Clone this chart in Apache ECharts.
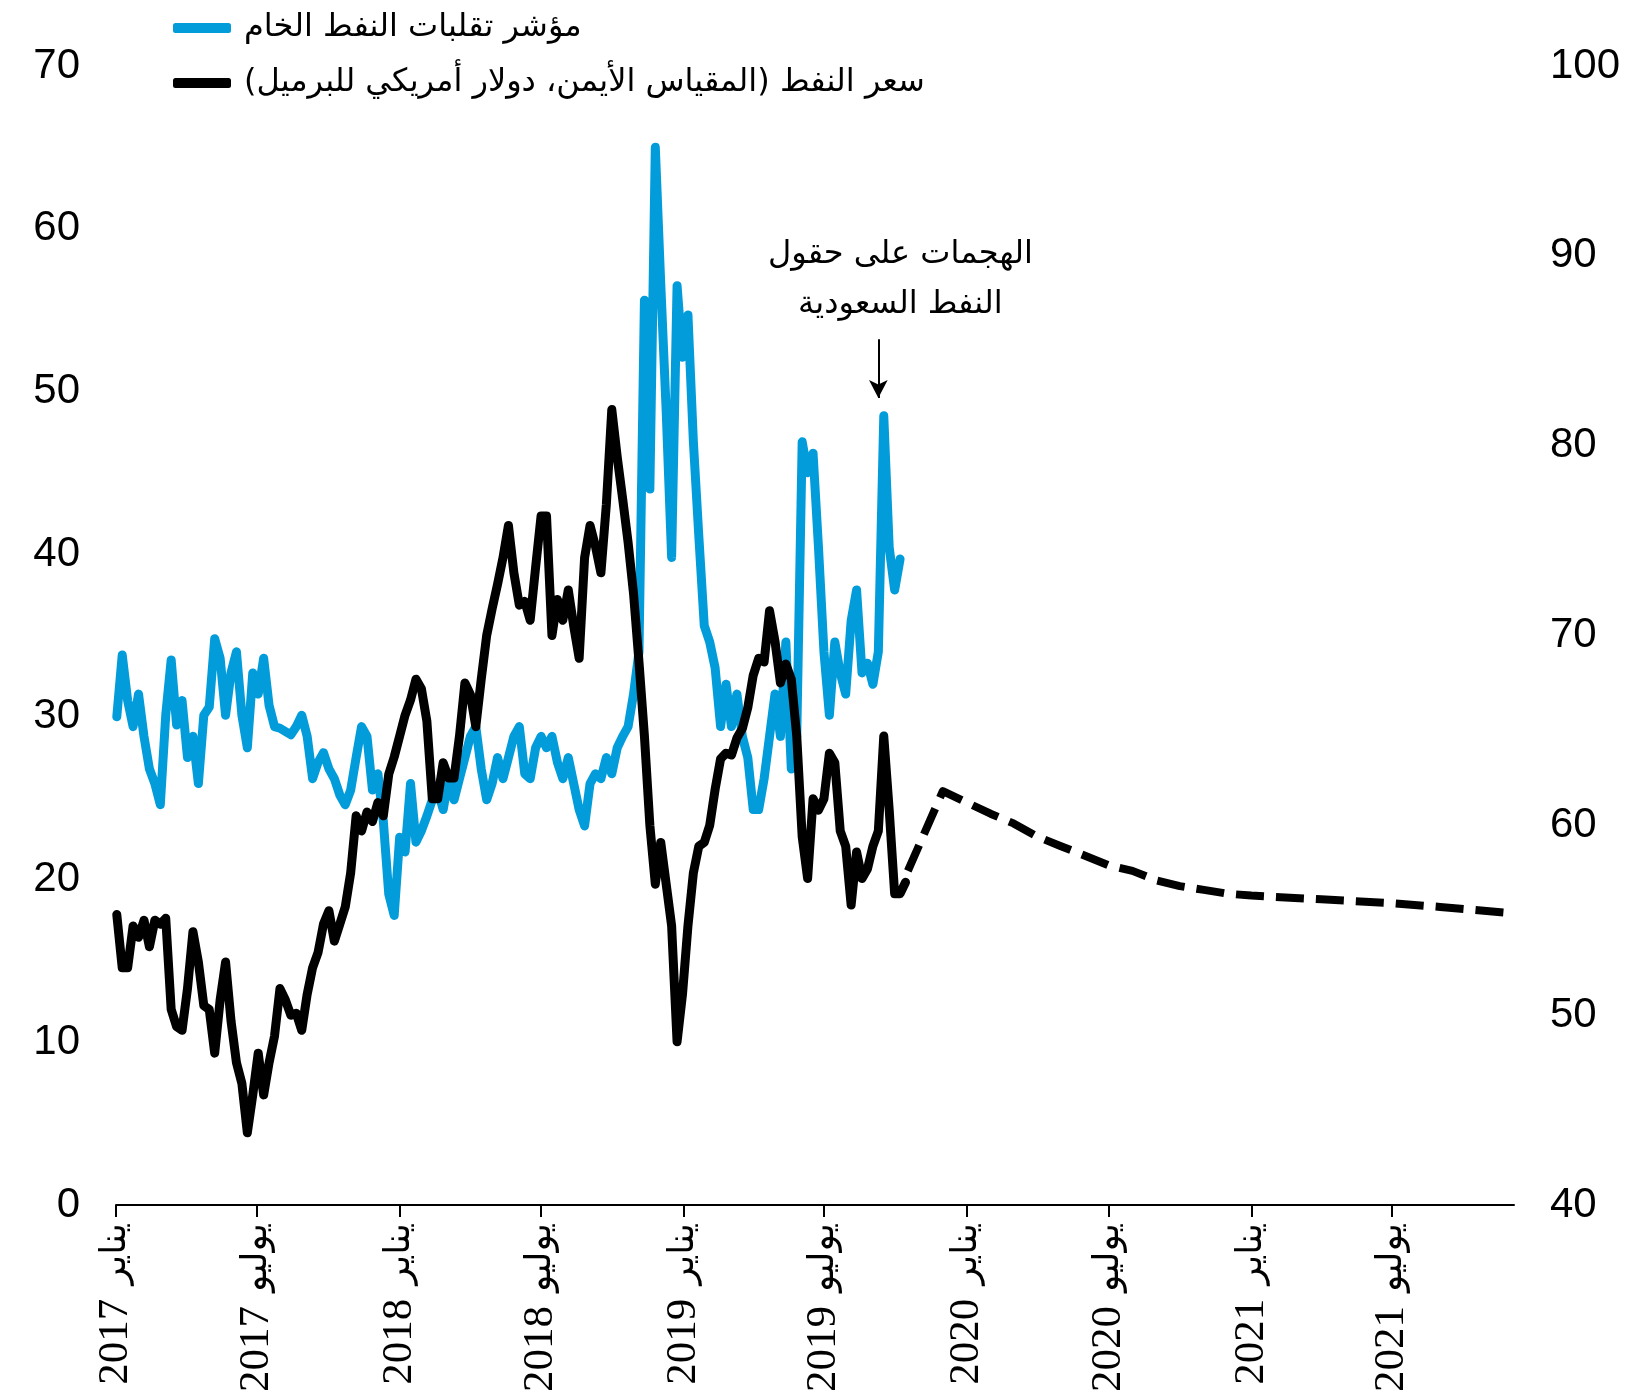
<!DOCTYPE html>
<html>
<head>
<meta charset="utf-8">
<title>Oil volatility and price</title>
<script src="https://cdn.jsdelivr.net/npm/echarts@6/dist/echarts.min.js"></script>
<style>
  html, body { margin: 0; padding: 0; background: #fff; }
  #chart { width: 1650px; height: 1398px; }
</style>
</head>
<body>
<div id="chart"></div>
<script>
// weekly observations (Mondays)
const weeks = [
  '2017-01-02','2017-01-09','2017-01-16','2017-01-23','2017-01-30',
  '2017-02-06','2017-02-13','2017-02-20','2017-02-27',
  '2017-03-06','2017-03-13','2017-03-20','2017-03-27',
  '2017-04-03','2017-04-10','2017-04-17','2017-04-24',
  '2017-05-01','2017-05-08','2017-05-15','2017-05-22','2017-05-29',
  '2017-06-05','2017-06-12','2017-06-19','2017-06-26',
  '2017-07-03','2017-07-10','2017-07-17','2017-07-24','2017-07-31',
  '2017-08-07','2017-08-14','2017-08-21','2017-08-28',
  '2017-09-04','2017-09-11','2017-09-18','2017-09-25',
  '2017-10-02','2017-10-09','2017-10-16','2017-10-23','2017-10-30',
  '2017-11-06','2017-11-13','2017-11-20','2017-11-27',
  '2017-12-04','2017-12-11','2017-12-18','2017-12-25',
  '2018-01-01','2018-01-08','2018-01-15','2018-01-22','2018-01-29',
  '2018-02-05','2018-02-12','2018-02-19','2018-02-26',
  '2018-03-05','2018-03-12','2018-03-19','2018-03-26',
  '2018-04-02','2018-04-09','2018-04-16','2018-04-23','2018-04-30',
  '2018-05-07','2018-05-14','2018-05-21','2018-05-28',
  '2018-06-04','2018-06-11','2018-06-18','2018-06-25',
  '2018-07-02','2018-07-09','2018-07-16','2018-07-23','2018-07-30',
  '2018-08-06','2018-08-13','2018-08-20','2018-08-27',
  '2018-09-03','2018-09-10','2018-09-17','2018-09-24',
  '2018-10-01','2018-10-08','2018-10-15','2018-10-22','2018-10-29',
  '2018-11-05','2018-11-12','2018-11-19','2018-11-26',
  '2018-12-03','2018-12-10','2018-12-17','2018-12-24','2018-12-31',
  '2019-01-07','2019-01-14','2019-01-21','2019-01-28',
  '2019-02-04','2019-02-11','2019-02-18','2019-02-25',
  '2019-03-04','2019-03-11','2019-03-18','2019-03-25',
  '2019-04-01','2019-04-08','2019-04-15','2019-04-22','2019-04-29',
  '2019-05-06','2019-05-13','2019-05-20','2019-05-27',
  '2019-06-03','2019-06-10','2019-06-17','2019-06-24',
  '2019-07-01','2019-07-08','2019-07-15','2019-07-22','2019-07-29',
  '2019-08-05','2019-08-12','2019-08-19','2019-08-26',
  '2019-09-02','2019-09-09','2019-09-16','2019-09-23','2019-09-30',
  '2019-10-07','2019-10-14'
];

// crude oil volatility index (left axis)
const volatility = [
  30.0, 33.8, 31.0, 29.4, 31.4, 28.8, 26.8, 25.9, 24.6, 30.1,
  33.5, 29.5, 31.0, 27.5, 28.8, 25.9, 30.1, 30.6, 34.8, 33.6,
  30.1, 32.7, 34.0, 30.1, 28.1, 32.7, 31.4, 33.6, 30.7, 29.4,
  29.3, 29.1, 28.9, 29.4, 30.1, 28.8, 26.2, 27.2, 27.8, 26.8,
  26.2, 25.2, 24.6, 25.5, 27.5, 29.4, 28.8, 25.5, 26.5, 23.6,
  19.1, 17.8, 22.6, 21.7, 25.9, 22.3, 23.0, 23.9, 24.9, 25.5,
  24.3, 26.2, 24.9, 26.2, 27.5, 28.8, 29.4, 26.8, 24.9, 25.9,
  27.5, 26.2, 27.5, 28.8, 29.4, 26.5, 26.2, 28.1, 28.8, 28.1,
  28.8, 27.2, 26.2, 27.5, 25.9, 24.3, 23.3, 25.9, 26.5, 26.2,
  27.5, 26.5, 28.1, 28.8, 29.4, 31.4, 34.0, 55.6, 44.0, 65.0,
  56.6, 48.8, 39.8, 56.5, 52.1, 54.7, 46.9, 41.1, 35.6, 34.6,
  33.0, 29.4, 32.0, 29.4, 31.4, 28.8, 27.5, 24.3, 24.3, 26.2,
  28.8, 31.4, 28.8, 34.6, 26.8, 28.8, 46.9, 45.0, 46.2, 40.4,
  34.0, 30.1, 34.6, 32.7, 31.4, 35.9, 37.8, 32.7, 33.3, 32.0,
  34.0, 48.5, 40.4, 37.8, 39.7
];

// oil price, USD per barrel (right axis)
const oilPrice = [
  55.3, 52.5, 52.5, 54.7, 54.1, 55.0, 53.6, 55.0, 54.8, 55.1,
  50.3, 49.4, 49.2, 51.4, 54.4, 52.8, 50.5, 50.3, 48.0, 50.8,
  52.8, 49.7, 47.5, 46.4, 43.8, 45.8, 48.0, 45.8, 47.5, 48.9,
  51.4, 50.8, 50.0, 50.1, 49.2, 51.1, 52.5, 53.3, 54.8, 55.5,
  53.9, 54.8, 55.7, 57.5, 60.5, 59.7, 60.7, 60.2, 61.2, 60.5,
  62.7, 63.6, 64.7, 65.8, 66.6, 67.7, 67.2, 65.5, 61.4, 61.4,
  63.3, 62.5, 62.5, 64.7, 67.5, 66.9, 65.2, 67.7, 70.0, 71.4,
  72.7, 74.1, 75.8, 73.3, 71.6, 71.8, 70.8, 73.6, 76.3, 76.3,
  70.0, 71.9, 70.8, 72.4, 70.5, 68.8, 74.1, 75.8, 74.7, 73.3,
  76.9, 81.9, 79.4, 77.2, 74.9, 72.2, 68.6, 64.7, 60.0, 56.9,
  59.1, 56.9, 54.7, 48.6, 51.1, 54.7, 57.5, 58.9, 59.1, 60.0,
  61.9, 63.5, 63.8, 63.7, 64.6, 65.1, 66.2, 67.9, 68.8, 68.6,
  71.3, 69.7, 67.5, 68.5, 67.7, 64.7, 59.4, 57.2, 61.4, 60.8,
  61.4, 63.8, 63.3, 59.7, 58.9, 55.8, 58.6, 57.2, 57.7, 58.9,
  59.7, 64.7, 60.8, 56.4, 56.4, 57.0
];

// futures curve (dashed)
const forecastDates = [
  '2019-10-17','2019-12-01','2020-01-01','2020-02-01','2020-03-01',
  '2020-04-01','2020-05-01','2020-06-01','2020-07-01','2020-08-01',
  '2020-09-01','2020-10-01','2020-11-01','2020-12-01','2021-01-01',
  '2021-04-01','2021-07-01','2021-09-01','2021-11-25'
];
const forecastPrice = [
  57.6, 61.8, 61.2, 60.6, 60.1,
  59.4, 58.9, 58.4, 57.9, 57.6,
  57.1, 56.8, 56.6, 56.4, 56.3,
  56.1, 55.9, 55.7, 55.4
];

const monthNames = ['يناير', 'يوليو'];
const legendNames = ['مؤشر تقلبات النفط الخام', 'سعر النفط (المقياس الأيمن، دولار أمريكي للبرميل)'];
const noteLines = ['الهجمات على حقول', 'النفط السعودية'];
const noteDate = '2019-09-09';
const arrowSpan = [53.2, 49.6];

const BLUE = '#039cdb';
const AR_FONT = '"DejaVu Sans", sans-serif';

const chart = echarts.init(document.getElementById('chart'));

const option = {
  animation: false,
  backgroundColor: '#fff',
  textStyle: { fontFamily: '"Liberation Sans", Arial, sans-serif' },
  grid: { left: 116, right: 136, top: 66, bottom: 193, containLabel: false, outerBoundsMode: 'none' },
  legend: {
    orient: 'vertical',
    left: 168,
    top: 1,
    data: legendNames,
    icon: 'roundRect',
    itemWidth: 58,
    itemHeight: 10,
    itemGap: 11,
    selectedMode: false,
    itemStyle: { borderWidth: 0 },
    textStyle: { fontFamily: AR_FONT, fontSize: 32, color: '#000', lineHeight: 44, padding: [0, 0, 0, 8] }
  },
  xAxis: {
    type: 'time',
    min: '2017-01-01',
    max: '2021-12-05',
    minInterval: 180 * 86400000,
    maxInterval: 185 * 86400000,
    splitLine: { show: false },
    axisLine: { show: true, lineStyle: { color: '#000', width: 2 } },
    axisTick: { show: true, length: 12, lineStyle: { color: '#000', width: 2 } },
    axisLabel: {
      rotate: 90,
      margin: 18,
      hideOverlap: false,
      formatter: function (val) {
        const d = new Date(val);
        return '{y|' + d.getFullYear() + '}{m|' + monthNames[d.getMonth() < 6 ? 0 : 1] + '}';
      },
      rich: {
        y: { fontFamily: '"Liberation Serif", "Times New Roman", serif', fontSize: 43, color: '#000' },
        m: { fontFamily: AR_FONT, fontSize: 36, color: '#000', padding: [0, 0, 0, 14] }
      }
    }
  },
  yAxis: [
    {
      type: 'value', min: 0, max: 70, interval: 10,
      splitLine: { show: false }, axisLine: { show: false }, axisTick: { show: false },
      axisLabel: { fontSize: 42, color: '#000', margin: 36 }
    },
    {
      type: 'value', min: 40, max: 100, interval: 10,
      splitLine: { show: false }, axisLine: { show: false }, axisTick: { show: false },
      axisLabel: { fontSize: 42, color: '#000', margin: 36 }
    }
  ],
  series: [
    {
      name: legendNames[0],
      type: 'line',
      yAxisIndex: 0,
      data: volatility.map((v, i) => [weeks[i], v]),
      showSymbol: false,
      symbol: 'none',
      itemStyle: { color: BLUE },
      lineStyle: { color: BLUE, width: 9, cap: 'round', join: 'round' },
      z: 2,
      markLine: {
        silent: true,
        symbol: ['none', 'arrow'],
        symbolSize: [14, 18],
        label: { show: false },
        lineStyle: { color: '#000', width: 2, type: 'solid' },
        data: [[{ coord: [noteDate, arrowSpan[0]] }, { coord: [noteDate, arrowSpan[1]] }]]
      }
    },
    {
      name: legendNames[1],
      type: 'line',
      yAxisIndex: 1,
      data: oilPrice.map((v, i) => [weeks[i], v]),
      showSymbol: false,
      symbol: 'none',
      itemStyle: { color: '#000' },
      lineStyle: { color: '#000', width: 9, cap: 'round', join: 'round' },
      z: 3
    },
    {
      name: 'forecast',
      type: 'line',
      yAxisIndex: 1,
      data: forecastPrice.map((v, i) => [forecastDates[i], v]),
      showSymbol: false,
      symbol: 'none',
      itemStyle: { color: '#000' },
      lineStyle: { color: '#000', width: 8, type: [28, 12], cap: 'butt', join: 'round' },
      z: 3
    }
  ]
};

chart.setOption(option);

// annotation text above the arrow
const tip = chart.convertToPixel({ xAxisIndex: 0, yAxisIndex: 0 }, [noteDate, arrowSpan[0]]);
chart.setOption({
  graphic: [{
    type: 'text',
    x: tip[0] + 22,
    y: tip[1] - 10,
    style: {
      text: noteLines.join('\n'),
      fontFamily: AR_FONT,
      fontSize: 32,
      lineHeight: 50,
      fill: '#000',
      align: 'center',
      verticalAlign: 'bottom'
    }
  }]
});

window.addEventListener('resize', function () {
  chart.resize();
});
</script>
</body>
</html>
